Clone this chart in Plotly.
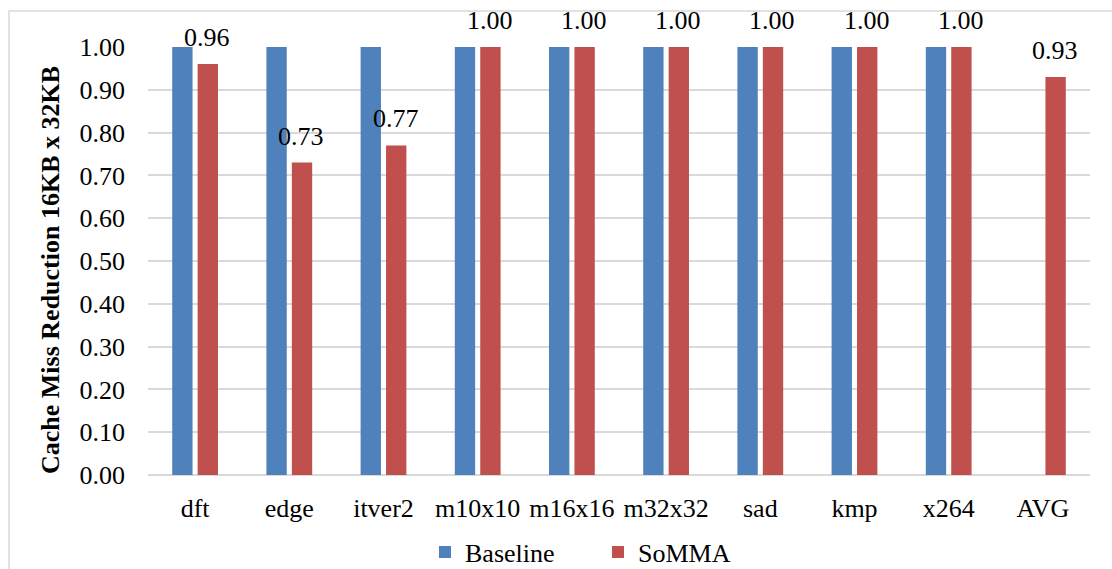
import plotly.graph_objects as go

categories = ["dft", "edge", "itver2", "m10x10", "m16x16", "m32x32", "sad", "kmp", "x264", "AVG"]
baseline = [1.00, 1.00, 1.00, 1.00, 1.00, 1.00, 1.00, 1.00, 1.00, None]
somma = [0.96, 0.73, 0.77, 1.00, 1.00, 1.00, 1.00, 1.00, 1.00, 0.93]
y_ticks = [0.0, 0.1, 0.2, 0.3, 0.4, 0.5, 0.6, 0.7, 0.8, 0.9, 1.0]
y_title = "Cache Miss Reduction 16KB x 32KB"

FONT = "Liberation Serif"
W, H = 1112, 569
ML, MR, MT, MB = 148, 22, 47, 94
PW, PH = W - ML - MR, H - MT - MB

fig = go.Figure()
fig.add_trace(go.Bar(name="Baseline", x=categories, y=baseline, marker_color="#4F81BD",
                     marker_line_width=0))
fig.add_trace(go.Bar(name="SoMMA", x=categories, y=somma, marker_color="#C0504D",
                     marker_line_width=0))

for c, v in zip(categories, somma):
    if v is None:
        continue
    fig.add_annotation(x=c, y=v, text=f"{v:.2f}", showarrow=False, xshift=12,
                       yanchor="bottom", yshift=10,
                       font=dict(family=FONT, size=26, color="#000"))

fig.add_annotation(xref="paper", yref="paper", x=(50 - ML) / PW, y=(H - MB - 270) / PH,
                   xanchor="center", yanchor="middle", textangle=-90, showarrow=False,
                   text=f"<b>{y_title}</b>", font=dict(family=FONT, size=26, color="#000"))

fig.add_shape(type="rect", xref="paper", yref="paper",
              x0=(9 - ML) / PW, x1=(W + 20 - ML) / PW,
              y0=(H - MB - (H + 20)) / PH, y1=(H - MB - 11) / PH,
              line=dict(color="#d9d9d9", width=1.5), layer="below")

fig.update_layout(
    width=W, height=H,
    margin=dict(l=ML, r=MR, t=MT, b=MB, autoexpand=False),
    paper_bgcolor="white", plot_bgcolor="white",
    barmode="group", bargap=0.46, bargroupgap=0.2,
    font=dict(family=FONT, size=26, color="#000"),
    showlegend=True,
    legend=dict(orientation="h", x=(425 - ML) / PW, xanchor="left",
                yref="container", y=1 - 552 / H, yanchor="middle",
                font=dict(family=FONT, size=26), entrywidth=128,
                itemsizing="constant"),
)
fig.update_yaxes(range=[0, 1.0], tickvals=y_ticks, tickformat=".2f",
                 showgrid=True, gridcolor="#d9d9d9", gridwidth=1.5,
                 zeroline=True, zerolinecolor="#d9d9d9", zerolinewidth=1.5,
                 showline=False, ticks="", ticklabelstandoff=22, automargin=False,
                 tickfont=dict(family=FONT, size=26))
fig.update_xaxes(showline=False, ticks="", ticklabelstandoff=15, automargin=False,
                 tickfont=dict(family=FONT, size=26))

fig.write_html("out.html")
